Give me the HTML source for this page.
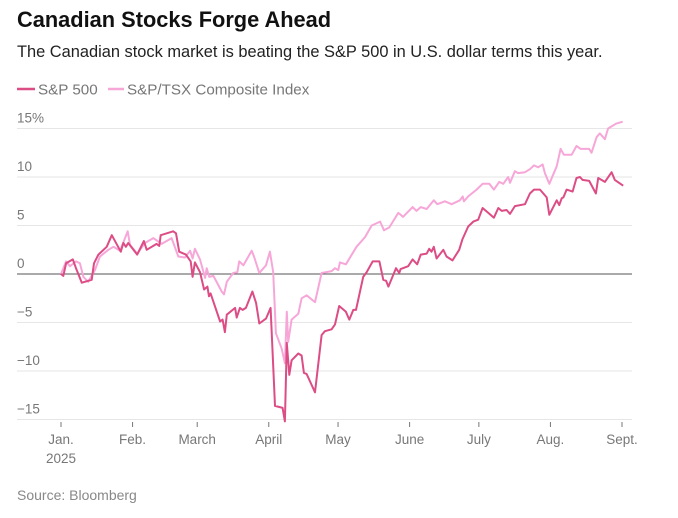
<!DOCTYPE html>
<html><head><meta charset="utf-8"><style>
body{margin:0;background:#fff;font-family:"Liberation Sans",Arial,sans-serif;}
#wrap{position:relative;width:678px;height:518px;overflow:hidden}
</style></head><body>
<div id="wrap">
<svg id="chart" width="678" height="518">
<text x="17" y="27" font-size="21.8" font-weight="bold" fill="#111">Canadian Stocks Forge Ahead</text>
<text x="17" y="57" font-size="16.4" fill="#222">The Canadian stock market is beating the S&amp;P 500 in U.S. dollar terms this year.</text>
<g><line x1="17" y1="89" x2="35" y2="89" stroke="#dc4d86" stroke-width="2.5"/><text x="38" y="94.5" font-size="15.2" fill="#777">S&amp;P 500</text></g>
<g><line x1="108" y1="89" x2="124" y2="89" stroke="#f7a6d8" stroke-width="2.5"/><text x="127" y="94.5" font-size="15.2" fill="#777">S&amp;P/TSX Composite Index</text></g>
<g id="grid"></g><g id="xaxis"></g><g id="series"></g>
<text x="17" y="500" font-size="14" fill="#888">Source: Bloomberg</text>
</svg></div>
<script>
const yTicks=[15,10,5,0,-5,-10,-15];
const yTickLabels=["15%","10","5","0","-5","-10","-15"];
const monthDays=[0,31,59,90,120,151,181,212,243];
const monthLabels=["Jan.","Feb.","March","April","May","June","July","Aug.","Sept."];
const spDays=[0,1,2.2,5.1,6.5,9,13.3,14.3,16.2,19.8,22,25.9,27,28.1,29.1,33,35.9,37.1,41.4,42.6,43.2,48.6,49.8,51.2,54.1,56.2,57,58,60.2,62,63.4,64.1,64.8,68.9,70,71,71.8,75.4,76.1,77.5,78.7,80.1,82.9,84.5,85.9,88.8,90.8,92.7,96,97,97.8,98.9,99.9,102.8,104.2,105.2,106.4,110,112.9,114.3,117.2,118.7,120.5,123.4,124.9,126.6,127.8,130.9,132.4,135,137.9,139.6,140.8,141.8,145.1,146.5,147.1,150.4,152.3,154.3,155.8,158.4,159.5,160.5,161.5,162.7,165.6,167,169.6,172.5,173.9,176.4,178.6,180.7,182.6,185.1,187.5,189.4,190.9,193,194.5,196.6,201,203.1,204.9,207.5,210.4,211.5,214.7,215.8,216.9,217.6,219,221.6,223.3,224.8,225.9,228.8,231.7,232.7,235.6,238.5,239.9,243.5];
const spValues=[0,-0.2,1.1,1.5,0.6,-0.9,-0.6,1.1,2,2.8,4,2.3,3.2,2.8,3.2,2,3.4,2.5,3.1,2.9,4,4.4,4.2,2.3,2,1.3,-0.3,1.2,0.2,-1.6,-1.3,-2.3,-2,-4.9,-4.7,-6,-4.2,-3.5,-4.5,-3.5,-3.7,-3.5,-1.8,-3,-5.1,-4.6,-3.5,-13.6,-13.8,-15.2,-7.1,-10.4,-8.9,-8.2,-8.4,-10.2,-10.3,-12.2,-6.3,-5.9,-5.7,-5.2,-3.3,-3.9,-4.7,-3.7,-3.7,-0.3,0.2,1.3,1.3,-0.6,-0.7,-1.3,0.6,0.1,0.5,0.8,1.5,1,2,2.1,2.6,2.3,2.8,1.6,2.5,1.8,1.4,2.5,3.6,4.9,5.4,5.6,6.8,6.3,5.8,6.8,6.5,6.6,6.2,7,7.2,8.3,8.7,8.7,7.9,6.1,7.6,7.1,7.8,7.9,8.7,8.5,9.9,10,9.7,9.6,8.3,9.9,9.5,10.5,9.7,9.1];
const tsxDays=[0,2.2,3.9,6.5,8.2,9.7,11.8,14.7,16.9,20.5,22.7,25.6,28.9,29.9,33,36.4,40,43.6,47.9,50.8,53.7,55.9,57,58,60.2,62.4,63.1,64.2,66,69.6,70.6,71.8,74.6,76.4,77.2,79,82.6,83.6,85.9,88.8,90.5,91.9,93.1,95.6,97,97.8,98.4,99.9,102.8,104.2,106.4,110,112.9,117.2,118.7,120.1,120.8,123.4,128,131.7,134.6,138.2,139.9,142.2,146.1,148.2,152.3,154,155.8,158.4,161.5,163,166.3,169.2,172.8,174,174.5,176.4,180,182.6,185.5,187.5,189.8,191.6,193.7,194.5,196.6,198,201,203.1,204.9,206.7,208.6,209.6,211.5,214.7,216.4,217.8,221.2,223.3,225.1,228.8,229.8,232,233.4,235.6,237,240.4,243.3];
const tsxValues=[0,1.3,0.8,1.3,1.1,-0.3,-0.8,0.4,1.8,2.5,2.8,2.4,4.4,3,2.1,3.2,3.7,3.1,3.7,1.8,1.7,2.4,1.6,2.6,1.5,-0.4,0.6,-0.3,-0.2,-1.8,-2.1,-0.8,0.1,0.2,1.3,0.9,2.4,1.8,0.1,0.9,2.3,0.2,-6.1,-7.7,-9.2,-3.9,-7,-4.7,-4.1,-2.5,-2.2,-2.9,0.1,0.3,0.6,0.4,1.2,1,2.8,3.8,5,5.4,4.5,4.8,6.3,5.9,6.9,6.5,6.9,6.7,7.6,7.2,7.5,7.2,7.6,8,7.5,8,8.7,9.3,9.3,8.7,9.5,9.3,10,9.4,10.6,10.4,10.5,10.8,11.2,11,11.3,10.4,9.3,11.1,12.9,12.3,12.3,13.2,12.9,12.9,12.5,14.1,14.5,13.9,15,15.5,15.7];
const NS="http://www.w3.org/2000/svg";
const X=d=>61+d*(622-61)/243;
const Y=v=>274-v*9.7;
function mk(tag,attrs,parent){const e=document.createElementNS(NS,tag);for(const k in attrs)e.setAttribute(k,attrs[k]);parent.appendChild(e);return e;}
const grid=document.getElementById('grid');
yTicks.forEach((t,i)=>{
  const l=mk('line',{x1:17,x2:632,y1:Y(t),y2:Y(t),stroke:t===0?'#555':'#e6e6e6','stroke-width':1},grid);
  
  
  const tx=mk('text',{x:17,y:Y(t)-6,'font-size':13.5,fill:'#777'},grid);
  tx.textContent=yTickLabels[i].replace('-','\u2212');
  
  
});
const xa=document.getElementById('xaxis');
monthDays.forEach((d,i)=>{
  const l=mk('line',{x1:X(d),x2:X(d),y1:422,y2:427,stroke:'#777','stroke-width':1},xa);
  
  
  const t=mk('text',{x:X(d),y:444,'font-size':13.5,fill:'#777','text-anchor':'middle'},xa);
  t.textContent=monthLabels[i];
  
  
});
const yr=mk('text',{x:X(0),y:463,'font-size':13.5,fill:'#777','text-anchor':'middle'},xa);
yr.textContent='2025';


const s=document.getElementById('series');
function line(days,vals,color){return mk('polyline',{points:days.map((d,i)=>X(d).toFixed(1)+','+Y(vals[i]).toFixed(1)).join(' '),fill:'none',stroke:color,'stroke-width':2,'stroke-linejoin':'round'},s);}
const tl=line(tsxDays,tsxValues,'#f7a6d8');


const sl=line(spDays,spValues,'#dc4d86');


</script>
</body></html>
